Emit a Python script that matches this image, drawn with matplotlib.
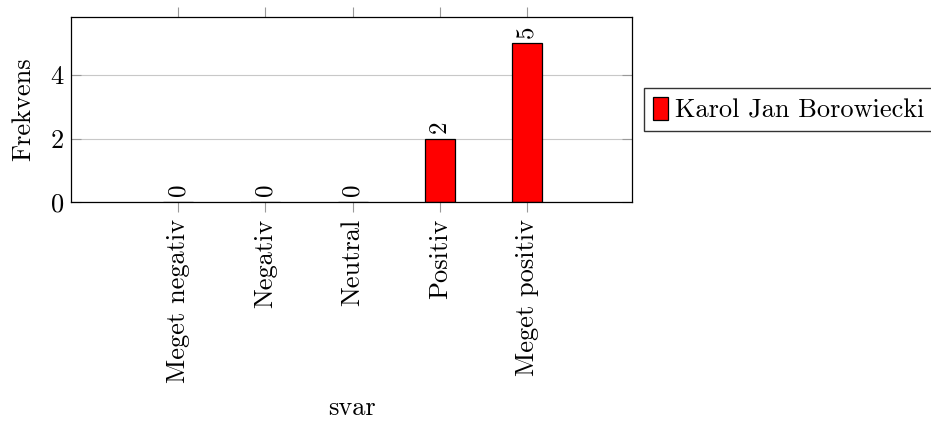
import matplotlib.pyplot as plt

categories = ['Meget negativ', 'Negativ', 'Neutral', 'Positiv', 'Meget positiv']
values = [0, 0, 0, 2, 5]
series_name = 'Karol Jan Borowiecki'

plt.rcParams['font.family'] = 'cmr10'
plt.rcParams['axes.formatter.use_mathtext'] = True
plt.rcParams['font.size'] = 19

fig = plt.figure(figsize=(9.31, 4.21), dpi=100)
ax = fig.add_axes([71 / 931, 1 - 202 / 421, (632 - 71) / 931, (202 - 17) / 421])

x = list(range(len(categories)))
bars = ax.bar(x, values, width=0.344, color='#ff0000', edgecolor='black',
              linewidth=0.9, label=series_name, zorder=3)

for xi, v in zip(x, values):
    ax.annotate(str(v), (xi, v), xytext=(0, 4), textcoords='offset points',
                rotation=90, ha='center', va='bottom', fontsize=18)

ax.set_xlim(-1.226, 5.20)
ax.set_ylim(0, 5.83)
ax.set_yticks([0, 2, 4])
ax.set_xticks(x)
ax.set_xticklabels(categories, rotation=90)
ax.yaxis.grid(True, color='#c8c8c8', linewidth=0.8, zorder=0)

ax.tick_params(axis='x', direction='out', length=7, color='#999999',
               top=True, bottom=True, pad=5)
ax.tick_params(axis='y', direction='in', length=7, color='#999999',
               left=True, right=True, pad=5)
for s in ax.spines.values():
    s.set_linewidth(0.9)
    s.set_zorder(4)

ax.set_ylabel('Frekvens', labelpad=10)
ax.set_xlabel('svar', labelpad=10)

ax.legend(loc='center left', bbox_to_anchor=(1.021, 0.5), borderaxespad=0,
          frameon=True, fancybox=False, edgecolor='black', handlelength=0.57,
          handleheight=1.0, handletextpad=0.27, borderpad=0.34, fontsize=19)

fig.savefig('out.png', dpi=100)
